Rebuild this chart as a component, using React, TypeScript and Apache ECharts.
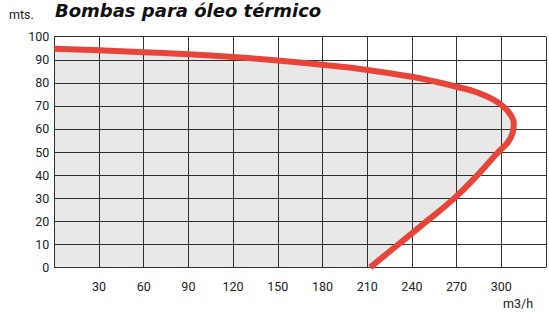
import React, { useEffect, useRef } from "react";
import * as echarts from "echarts";

const flowValues = [0, 30, 60, 90, 120, 150, 180, 210, 240, 255, 270, 284, 295, 302, 306.5, 308.4, 307.6, 304.5, 298, 284, 268.5, 250, 231, 212];
const headValues = [94.8, 94.1, 93.3, 92.4, 91.2, 89.7, 87.8, 85.6, 82.6, 80.6, 78.3, 75.8, 72.6, 69.3, 65.8, 62.2, 58.3, 54.3, 50, 40, 30, 20, 10, 0];
const xTicks = [30, 60, 90, 120, 150, 180, 210, 240, 270, 300];
const yTicks = [0, 10, 20, 30, 40, 50, 60, 70, 80, 90, 100];

const titleText = "Bombas para óleo térmico";
const yUnit = "mts.";
const xUnit = "m3/h";

const FONT = "Roboto";

export default function App() {
  const ref = useRef<HTMLDivElement>(null);
  useEffect(() => {
    if (!ref.current) return;
    const chart = echarts.init(ref.current, undefined, { renderer: "svg" });
    const data = flowValues.map((x, i) => [x, headValues[i]]);
    chart.setOption({
      animation: false,
      backgroundColor: "#ffffff",
      grid: { left: 54.3, right: -4, top: 36.7, bottom: 44.7, containLabel: false },
      xAxis: {
        type: "value",
        min: 0,
        max: 330,
        interval: 30,
        axisLine: { show: true, lineStyle: { color: "#333", width: 1 } },
        axisTick: { show: false },
        splitLine: { show: true, lineStyle: { color: "#333", width: 1 } },
        axisLabel: {
          margin: 13,
          fontFamily: FONT,
          fontSize: 12.5,
          color: "#222",
          formatter: (v: number) => (xTicks.includes(v) ? String(v) : ""),
        },
      },
      yAxis: {
        type: "value",
        min: 0,
        max: 100,
        interval: 10,
        axisLine: { show: true, lineStyle: { color: "#333", width: 1 } },
        axisTick: { show: false },
        splitLine: { show: true, lineStyle: { color: "#333", width: 1 } },
        axisLabel: {
          margin: 5,
          fontFamily: FONT,
          fontSize: 12.5,
          color: "#222",
          formatter: (v: number) => (yTicks.includes(v) ? String(v) : ""),
        },
      },
      series: [
        {
          type: "line",
          data,
          smooth: 0.5,
          symbol: "none",
          lineStyle: { color: "#e8453a", width: 6 },
          areaStyle: { color: "rgba(0,0,0,0.13)" },
        },
      ],
      graphic: [
        {
          type: "text",
          left: 9,
          top: 8,
          style: { text: yUnit, font: `12.5px ${FONT}`, fill: "#222" },
        },
        {
          type: "text",
          left: 55,
          top: 1,
          style: { text: titleText, font: `italic bold 18px "DejaVu Sans"`, fill: "#111" },
        },
        {
          type: "text",
          left: 503,
          top: 297,
          style: { text: xUnit, font: `12.5px ${FONT}`, fill: "#222" },
        },
      ],
    });
    return () => chart.dispose();
  }, []);
  return (
    <div
      ref={ref}
      style={{ position: "fixed", left: 0, top: 0, width: 549, height: 312, overflow: "hidden" }}
    />
  );
}
